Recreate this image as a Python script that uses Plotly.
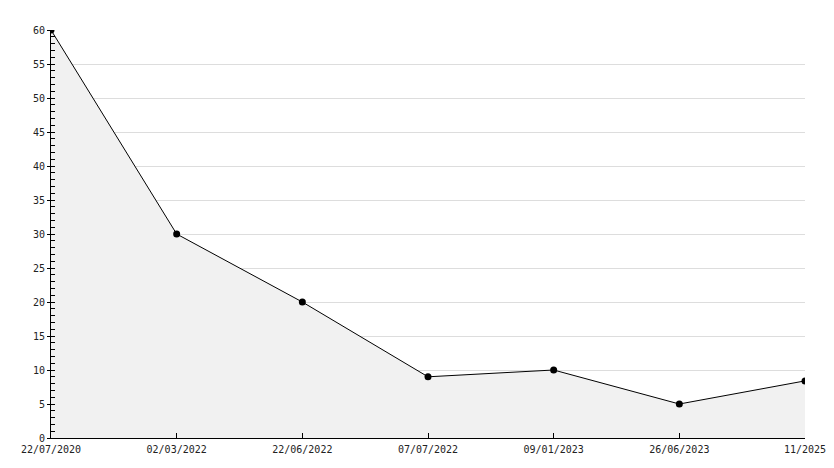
import plotly.graph_objects as go

dates = ["22/07/2020", "02/03/2022", "22/06/2022", "07/07/2022", "09/01/2023", "26/06/2023", "11/2025"]
values = [60, 30, 20, 9, 10, 5, 8.4]
y_ticks = list(range(0, 61, 5))

idx = list(range(len(dates)))
font = dict(family="DejaVu Sans Mono", size=10, color="#222222")

fig = go.Figure()
fig.add_trace(go.Scatter(
    x=idx, y=values, mode="lines+markers",
    line=dict(color="black", width=1),
    marker=dict(color="black", size=7, symbol="circle"),
    fill="tozeroy", fillcolor="#f1f1f1",
    hoverinfo="skip", showlegend=False,
))
fig.add_trace(go.Scatter(x=idx, y=values, yaxis="y2", mode="none", showlegend=False, hoverinfo="skip"))

fig.update_layout(
    width=818, height=452,
    margin=dict(l=43, r=21, t=22, b=22, autoexpand=False),
    paper_bgcolor="white", plot_bgcolor="white",
    font=font,
    xaxis=dict(
        range=[0, len(dates) - 1], tickvals=idx, ticktext=dates,
        showgrid=False, zeroline=False, automargin=False,
        showline=True, linecolor="black", linewidth=1,
        ticks="inside", ticklen=5, tickcolor="black",
        tickfont=font, ticklabelstandoff=2, ticklabeloverflow="allow",
    ),
    yaxis=dict(
        range=[0, 60], tickvals=y_ticks, automargin=False,
        showgrid=True, gridcolor="#dddddd", gridwidth=1,
        zeroline=False,
        showline=True, linecolor="black", linewidth=1,
        ticks="inside", ticklen=4, tickcolor="black",
        minor=dict(dtick=1, ticks="inside", ticklen=4, tickcolor="black", showgrid=False),
        tickfont=font, ticklabelstandoff=3, ticklabeloverflow="allow",
    ),
    yaxis2=dict(
        range=[0, 60], tickvals=y_ticks, overlaying="y", side="left", automargin=False,
        showgrid=False, zeroline=False, showticklabels=False,
        ticks="outside", ticklen=3, tickcolor="black",
    ),
)
fig.write_html("out.html")
